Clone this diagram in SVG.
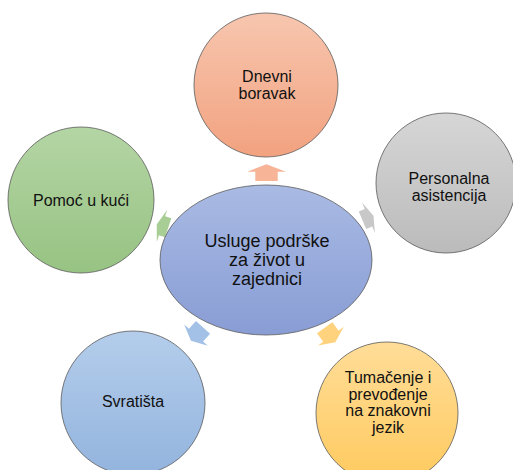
<svg xmlns="http://www.w3.org/2000/svg" width="513" height="470" viewBox="0 0 513 470">
<defs>
<linearGradient id="gOrange" x1="0" y1="0" x2="0" y2="1"><stop offset="0" stop-color="#F7C6AF"/><stop offset="1" stop-color="#F2A27F"/></linearGradient>
<linearGradient id="gGray" x1="0" y1="0" x2="0" y2="1"><stop offset="0" stop-color="#D6D6D6"/><stop offset="1" stop-color="#BBBBBB"/></linearGradient>
<linearGradient id="gGreen" x1="0" y1="0" x2="0" y2="1"><stop offset="0" stop-color="#B4D5A4"/><stop offset="1" stop-color="#97C383"/></linearGradient>
<linearGradient id="gBlue" x1="0" y1="0" x2="0" y2="1"><stop offset="0" stop-color="#B4CDEB"/><stop offset="1" stop-color="#93B4DE"/></linearGradient>
<linearGradient id="gYellow" x1="0" y1="0" x2="0" y2="1"><stop offset="0" stop-color="#FFDD98"/><stop offset="1" stop-color="#FFCA5E"/></linearGradient>
<linearGradient id="gHub" x1="0" y1="0" x2="0" y2="1"><stop offset="0" stop-color="#A9BAE3"/><stop offset="1" stop-color="#899DD5"/></linearGradient>
</defs>
<style>
.node{stroke:#5a5a5a;stroke-width:0.8;}
.t{font-family:"Liberation Sans",Arial,sans-serif;font-size:16px;fill:#111;text-anchor:middle;}
.th{font-family:"Liberation Sans",Arial,sans-serif;font-size:18px;fill:#111;text-anchor:middle;}
</style>
<g id="connectors">
<polygon fill="#F7B497" transform="translate(266.5,172.7) rotate(-90)" points="8.4,0 1,-19.4 1,-11.2 -8.3,-11.2 -8.3,11.2 1,11.2 1,19.4"/>
<polygon fill="#A8CE96" transform="translate(162.5,226) rotate(-162)" points="6,0 0.5,-17 0.5,-10 -6,-10 -6,10 0.5,10 0.5,17"/>
<polygon fill="#C8C8C8" transform="translate(368,218) rotate(-23)" points="6,0 0.5,-16.5 0.5,-9.5 -6,-9.5 -6,9.5 0.5,9.5 0.5,16.5"/>
<polygon fill="#A3C0E6" transform="translate(197,334) rotate(132)" points="9,0 1.5,-16 1.5,-9.5 -9,-9.5 -9,9.5 1.5,9.5 1.5,16"/>
<polygon fill="#FFD27D" transform="translate(330,335) rotate(54)" points="9,0 1.5,-16 1.5,-9.5 -9,-9.5 -9,9.5 1.5,9.5 1.5,16"/>
</g>
<g id="hub">
<ellipse class="node" cx="266" cy="260" rx="106" ry="75" fill="url(#gHub)"/>
<text class="th" x="267" y="247">Usluge podrške</text>
<text class="th" x="267" y="266">za život u</text>
<text class="th" x="267" y="285">zajednici</text>
</g>
<g id="dnevni">
<circle class="node" cx="266" cy="85" r="72" fill="url(#gOrange)"/>
<text class="t" x="267" y="82">Dnevni</text>
<text class="t" x="267" y="98.5">boravak</text>
</g>
<g id="personalna">
<circle class="node" cx="446" cy="183" r="70" fill="url(#gGray)"/>
<text class="t" x="449" y="184">Personalna</text>
<text class="t" x="449" y="200.5">asistencija</text>
</g>
<g id="pomoc">
<circle class="node" cx="81" cy="200" r="73" fill="url(#gGreen)"/>
<text class="t" x="81" y="206">Pomoć u kući</text>
</g>
<g id="svratista">
<circle class="node" cx="133" cy="403" r="72" fill="url(#gBlue)"/>
<text class="t" x="133" y="407">Svratišta</text>
</g>
<g id="tumacenje">
<circle class="node" cx="387" cy="413" r="71" fill="url(#gYellow)"/>
<text class="t" x="388" y="383">Tumačenje i</text>
<text class="t" x="388" y="399.7">prevođenje</text>
<text class="t" x="388" y="416.4">na znakovni</text>
<text class="t" x="388" y="433">jezik</text>
</g>
</svg>
